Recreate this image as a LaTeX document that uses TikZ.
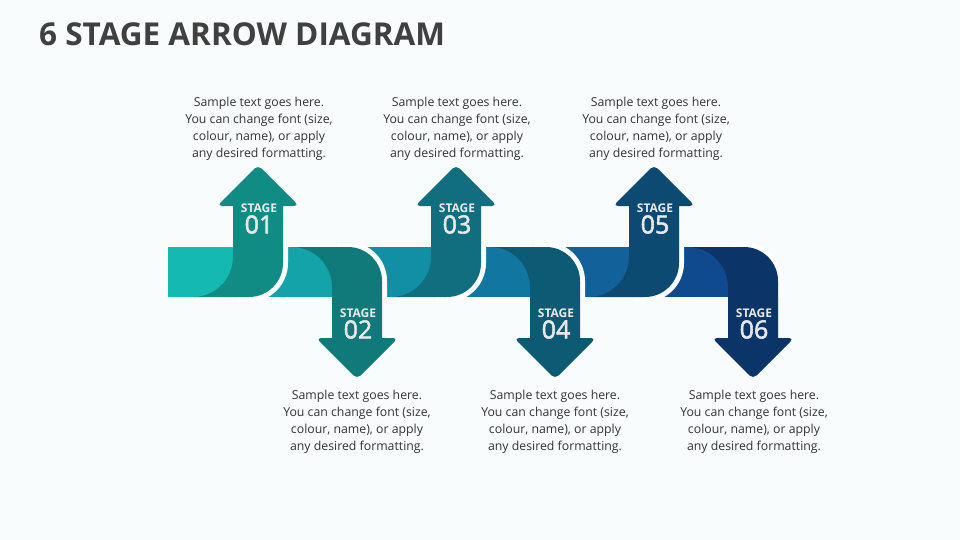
\documentclass[tikz,border=0pt]{standalone}
\usepackage{fontspec}
\setmainfont{Open Sans}
\newfontfamily\stgnumfont[FakeBold=2.2]{Open Sans}
\definecolor{bgc}{HTML}{F8FCFC}
\definecolor{titlec}{HTML}{404040}
\definecolor{bodyc}{HTML}{333333}
\definecolor{lblc}{HTML}{E8E8E8}
\definecolor{cA0}{HTML}{14BAB2}
\definecolor{cU0}{HTML}{118C85}
\definecolor{cB0}{HTML}{13A3A8}
\definecolor{cD0}{HTML}{107A7B}
\definecolor{cA1}{HTML}{138FA5}
\definecolor{cU1}{HTML}{106E7F}
\definecolor{cB1}{HTML}{1176A0}
\definecolor{cD1}{HTML}{0D5A74}
\definecolor{cA2}{HTML}{12619B}
\definecolor{cU2}{HTML}{0D4A72}
\definecolor{cB2}{HTML}{0F4A8F}
\definecolor{cD2}{HTML}{0B3468}
\newcommand\stgarrowpath{(-65,25) -- (-9,25) .. controls (9.8,25) and (25,9.8) .. (25,-9) -- (25,-66) [rounded corners=5] -- (41,-66) -- (0,-107) -- (-41,-66) [sharp corners] -- (-25,-66) -- (-25,-15) .. controls (-25,7) and (-43,25) .. (-65,25) -- cycle}
\newcommand\stggappath{(25,-25.5) -- (25,-9) .. controls (25,9.8) and (9.8,25) .. (-9,25) -- (-20,25)}
\tikzset{
  bodytxt/.style={font=\fontsize{12.3}{17}\selectfont, text=bodyc, align=center, inner sep=0pt},
  stagelbl/.style={font=\bfseries\fontsize{12}{12}\selectfont, text=lblc, inner sep=0pt},
  stagenum/.style={font=\stgnumfont\fontsize{25}{25}\selectfont, text=lblc, inner sep=0pt},
  gapline/.style={draw=white, line width=10pt},
}
\begin{document}
\begin{tikzpicture}[x=1pt,y=-1pt]
\fill[bgc] (0,0) rectangle (960,540);
\useasboundingbox (0,0) rectangle (960,540);
\node[anchor=base west, font=\bfseries\fontsize{31.5}{32}\selectfont, text=titlec, inner sep=0pt] (title) at (39,46) {6 STAGE ARROW DIAGRAM};
% band segments
\fill[cA0] (168,247) rectangle (248,297);
\fill[cB0] (248,247) rectangle (357,297);
\fill[cA1] (357,247) rectangle (446,297);
\fill[cB1] (446,247) rectangle (555,297);
\fill[cA2] (555,247) rectangle (644,297);
\fill[cB2] (644,247) rectangle (753,297);
% arrows
\foreach \k/\cu/\cd in {0/cU0/cD0, 1/cU1/cD1, 2/cU2/cD2}{
  \begin{scope}[shift={(258+198*\k,272)}]
    \draw[gapline] \stggappath;
    \fill[\cu] \stgarrowpath;
  \end{scope}
  \begin{scope}[shift={(357+198*\k,272)}, yscale=-1]
    \draw[gapline] \stggappath;
    \fill[\cd] \stgarrowpath;
  \end{scope}
}
% stage labels
\foreach \i/\x/\y in {1/259/208, 3/457/208, 5/655/208, 2/358/313, 4/556/313, 6/754/313}{
  \node[stagelbl] (s\i) at (\x,\y) {STAGE};
  \node[stagenum] (n\i) at (\x,\y+16.5) {0\i};
}
% text blocks
\foreach \i/\x/\y in {1/259/128.5, 3/457/128.5, 5/656/128.5, 2/357/421.5, 4/555/421.5, 6/754/421.5}{
  \node[bodytxt] (t\i) at (\x,\y) {Sample text goes here.\\You can change font (size,\\colour, name), or apply\\any desired formatting.};
}
\end{tikzpicture}
\end{document}
